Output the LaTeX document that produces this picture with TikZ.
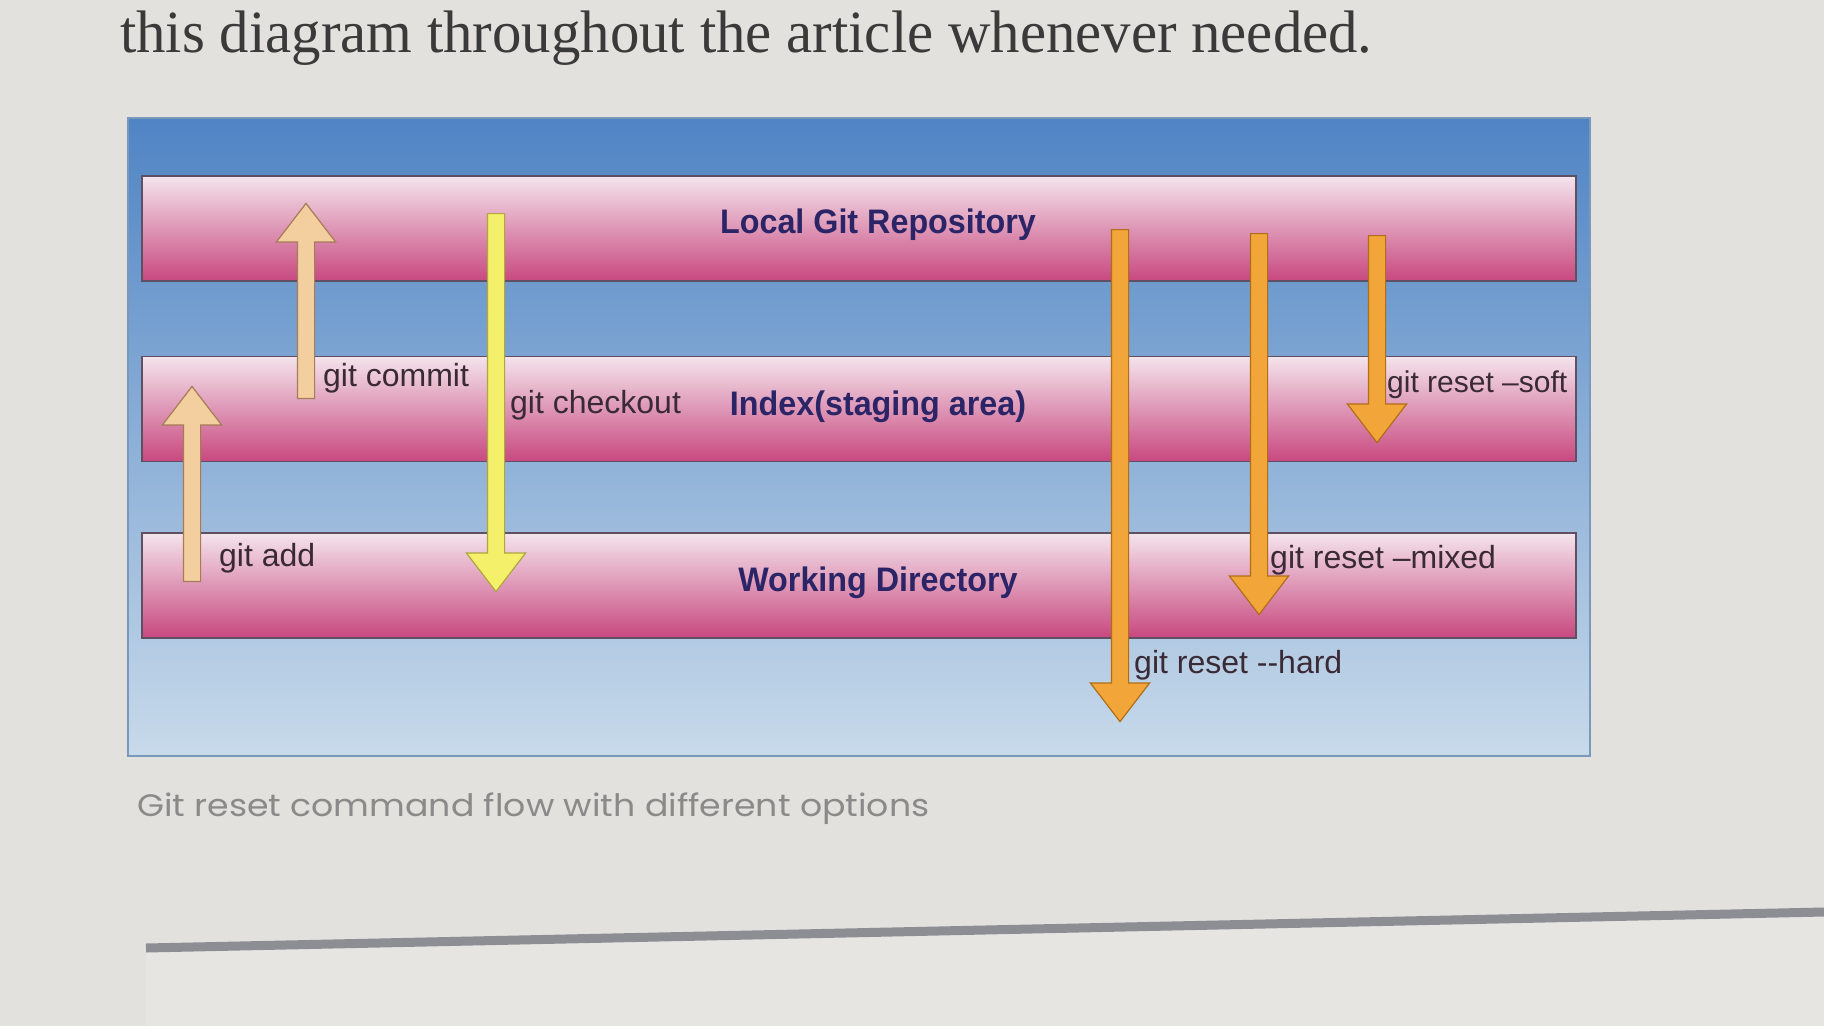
\documentclass[tikz,border=0pt]{standalone}
\usepackage{fontspec}
\setmainfont{Liberation Serif}
\newfontfamily\pagefont[FakeStretch=0.98]{Liberation Serif}
\newfontfamily\bandfont[FakeStretch=0.95]{Liberation Sans}
\newfontfamily\cmdfont{Liberation Sans}
\newfontfamily\capfont[FakeStretch=1.12]{Poppins}
\usetikzlibrary{positioning,shapes.arrows}
\definecolor{pagebg}{HTML}{E3E1DD}
\definecolor{pagetext}{HTML}{3A3A3A}
\definecolor{capgrey}{HTML}{8A8A8A}
\definecolor{rulegrey}{HTML}{8C8E94}
\definecolor{boxtop}{HTML}{4F84C4}
\definecolor{boxmid}{HTML}{9DBFE2}
\definecolor{boxbot}{HTML}{C8DAEA}
\definecolor{boxline}{HTML}{7A98BC}
\definecolor{bandtop}{HTML}{F4E4EC}
\definecolor{bandbot}{HTML}{C8487F}
\definecolor{bandline}{HTML}{5E4F63}
\definecolor{navy}{HTML}{2B2466}
\definecolor{cmdtext}{HTML}{3A2A35}
\definecolor{beigefill}{HTML}{F3CFA0}
\definecolor{beigeline}{HTML}{A57C55}
\definecolor{yellowfill}{HTML}{F4F06A}
\definecolor{yellowline}{HTML}{B0A640}
\definecolor{orangefill}{HTML}{F2A63A}
\definecolor{orangeline}{HTML}{B06E18}

\begin{document}
\begin{tikzpicture}[x=1pt,y=-1pt,
  band/.style={draw=bandline,line width=1.5pt,top color=bandtop,bottom color=bandbot,minimum width=1434pt,minimum height=105pt,inner sep=0pt},
  bandlbl/.style={font=\bandfont\fontsize{34}{40}\selectfont\bfseries,text=navy,inner sep=0pt},
  cmd/.style={font=\cmdfont\fontsize{32}{36}\selectfont,text=cmdtext,anchor=west,inner sep=0pt},
  fatarrow/.style={single arrow,line width=1.2pt,inner xsep=0pt,inner ysep=8pt,single arrow head extend=21pt,single arrow tip angle=75,anchor=tail},
  upward/.style={fatarrow,rotate=90,minimum height=#1},
  downward/.style={fatarrow,rotate=-90,minimum height=#1},
  beige/.style={draw=beigeline,fill=beigefill},
  lemon/.style={draw=yellowline,fill=yellowfill},
  amber/.style={draw=orangeline,fill=orangefill}
]
\useasboundingbox (0,0) rectangle (1824,1026);
\fill[pagebg] (0,0) rectangle (1824,1026);

\node[anchor=base west,inner sep=0pt,font=\pagefont\fontsize{60}{66}\selectfont,text=pagetext] (intro) at (120,52) {this diagram throughout the article whenever needed.};

% the blue panel and the three areas
\node[draw=boxline,line width=1.5pt,top color=boxtop,middle color=boxmid,bottom color=boxbot,minimum width=1462pt,minimum height=638pt] (frame) at (859,437) {};
\node[band] (repo) at (859,228.5) {};
\node[band,below=74pt of repo] (index) {};
\node[band,below=70pt of index] (work) {};

\node[bandlbl] (repolbl) at (878,225) {Local Git Repository};
\node[bandlbl] (indexlbl) at (878,407) {Index(staging area)};
\node[bandlbl] (worklbl) at (878,583) {Working Directory};

% commands
\node[upward=195pt,beige] (add) at (192,582) {};
\node[upward=195pt,beige] (commit) at (306,399) {};
\node[downward=378pt,lemon] (checkout) at (496,213) {};
\node[downward=492pt,amber] (hard) at (1120,229) {};
\node[downward=381pt,amber] (mixed) at (1259,233) {};
\node[downward=207pt,amber] (soft) at (1377,235) {};

\node[cmd] (addlbl) at (219,558) {git add};
\node[cmd] (commitlbl) at (323,378) {git commit};
\node[cmd] (checkoutlbl) at (510,405) {git checkout};
\node[cmd] (hardlbl) at (1134,665) {git reset -{}-hard};
\node[cmd] (mixedlbl) at (1270,560) {git reset \textendash mixed};
\node[cmd,font=\cmdfont\fontsize{30}{34}\selectfont] (softlbl) at (1387,385) {git reset \textendash soft};

\node[anchor=base west,inner sep=0pt,font=\capfont\fontsize{31}{36}\selectfont,text=capgrey] (caption) at (137,816) {Git reset command flow with different options};

% next block of the page
\coordinate (rule-l) at (146,948);
\coordinate (rule-r) at (1824,912);
\fill[white,opacity=0.15] (rule-l) -- (rule-r) -- (1824,1026) -- (146,1026) -- cycle;
\draw[rulegrey,line width=9pt] (rule-l) -- (rule-r);
\end{tikzpicture}
\end{document}
